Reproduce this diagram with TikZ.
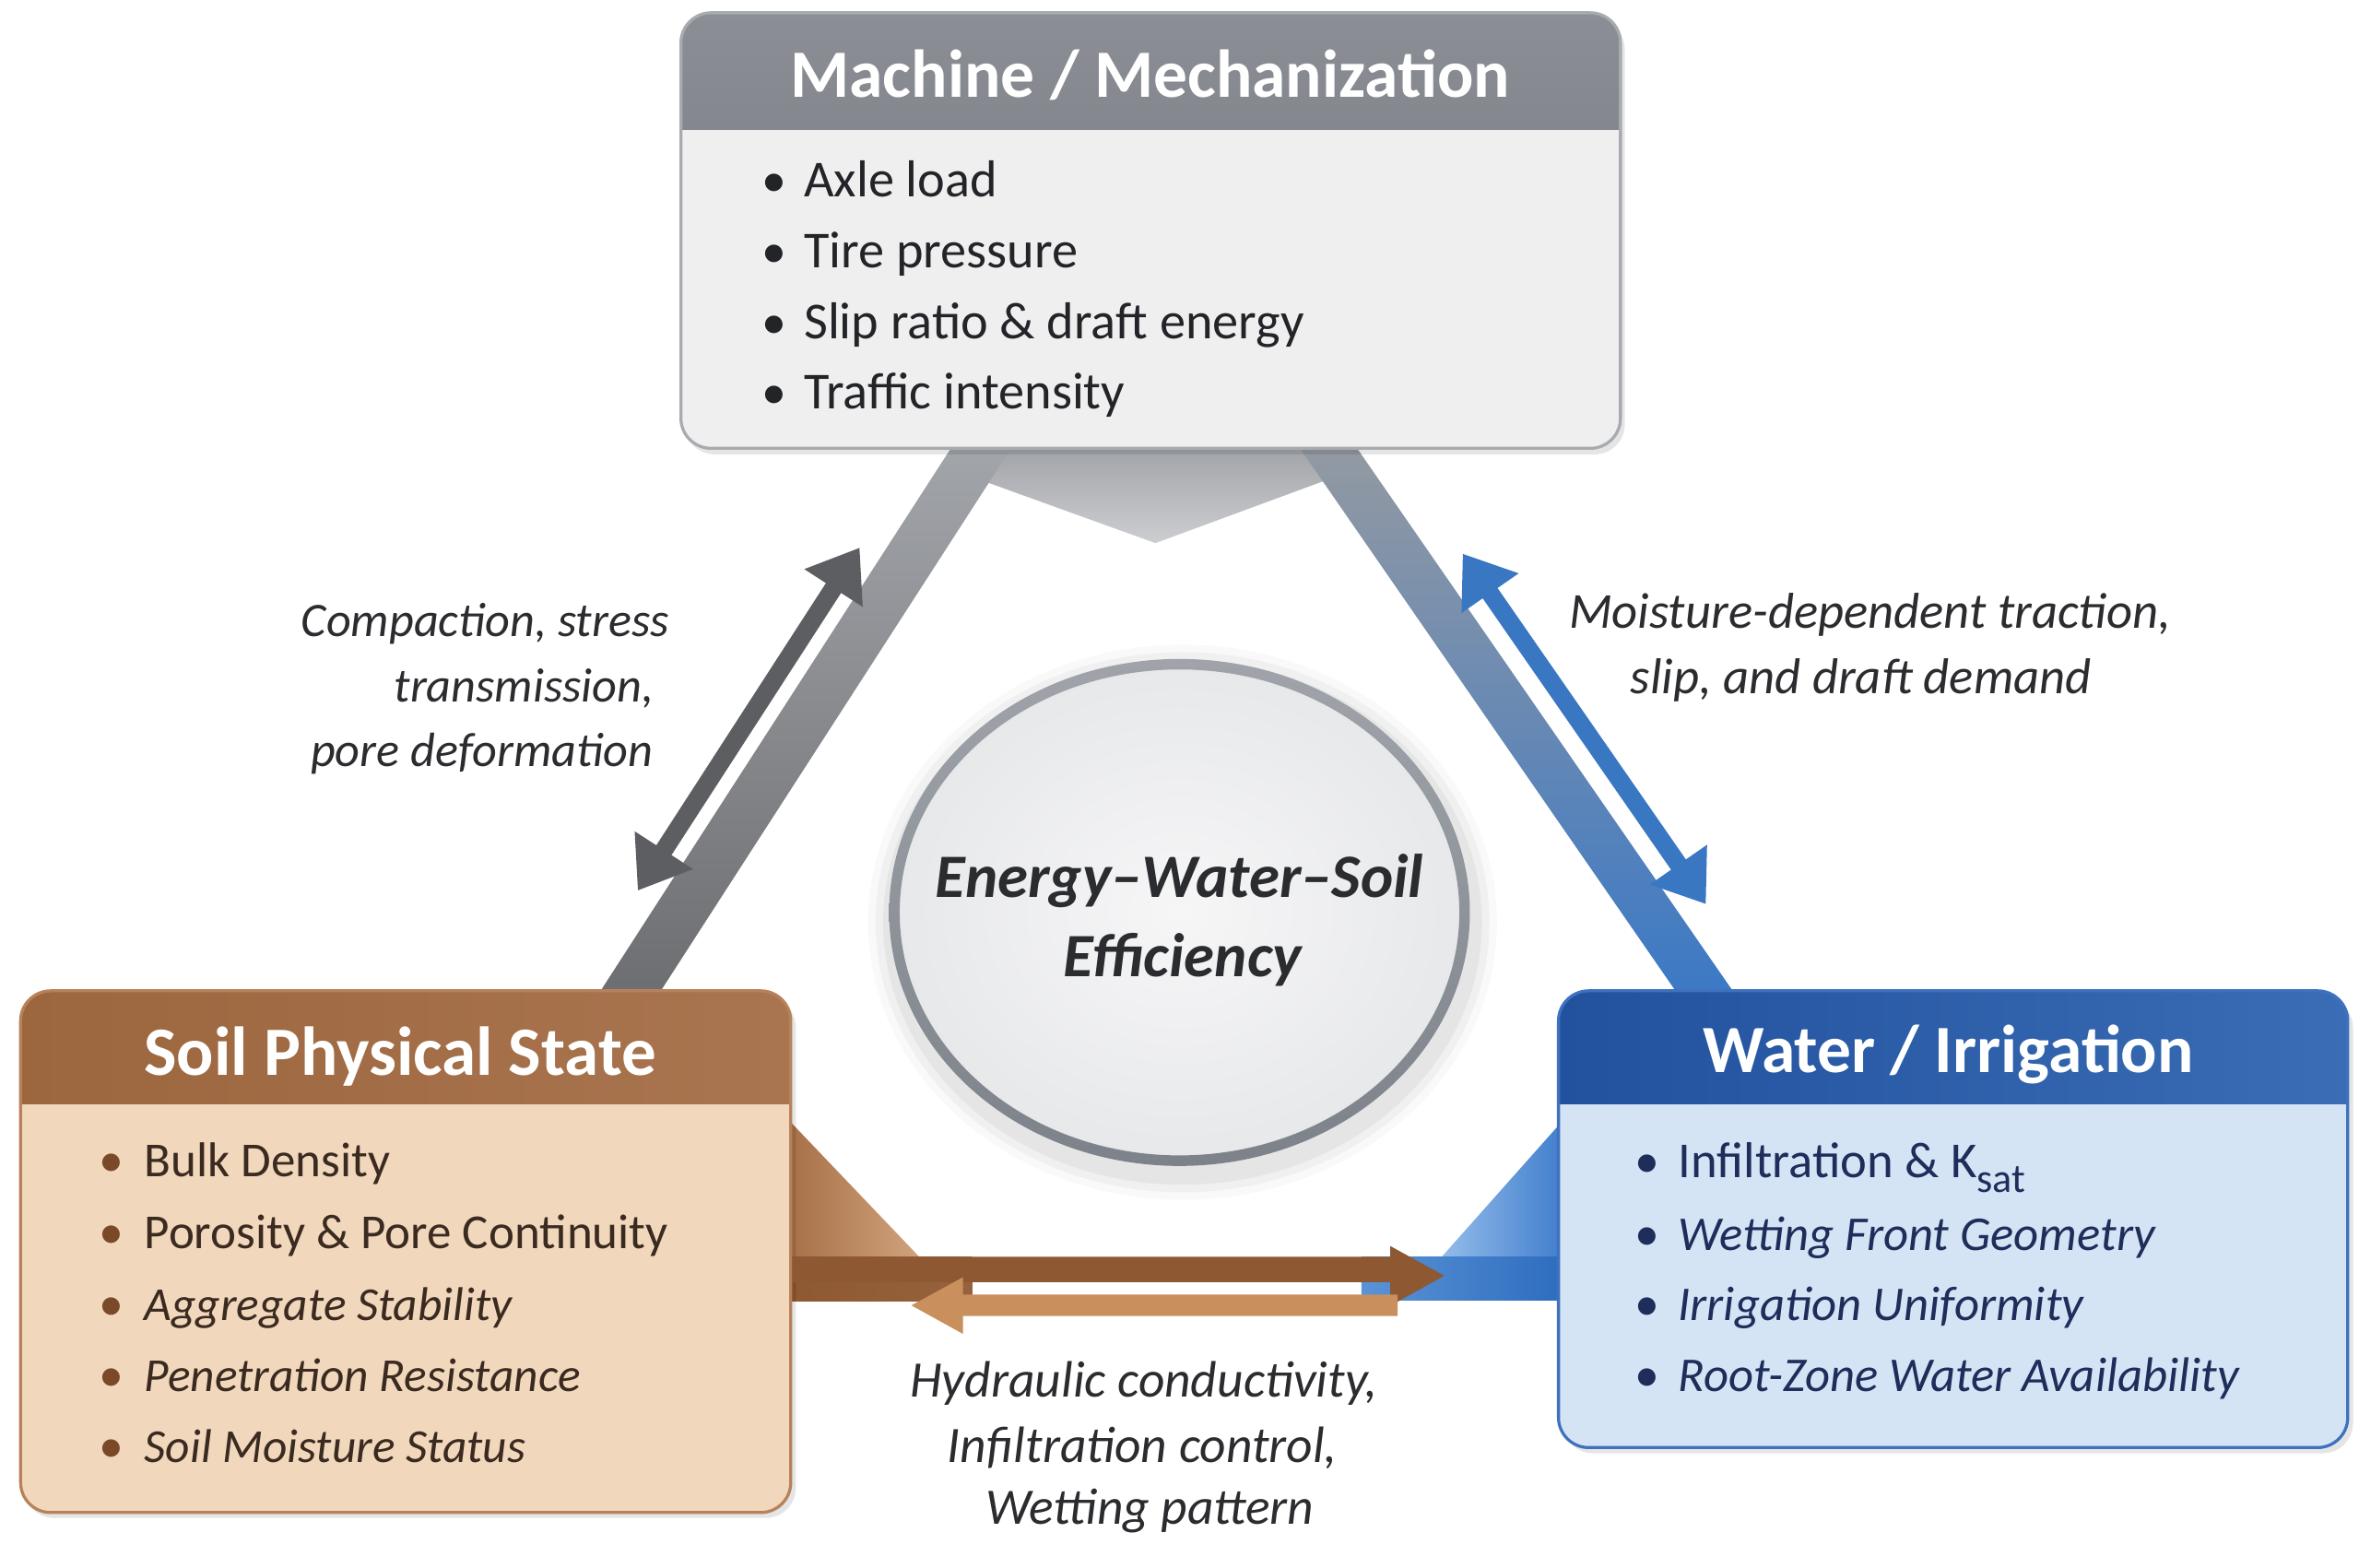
\documentclass[tikz,border=0pt]{standalone}
\usepackage{fontspec}
\setmainfont{Carlito}
\usetikzlibrary{arrows.meta,shapes.geometric}
\definecolor{mHead}{HTML}{8B8F95}
\definecolor{mHeadB}{HTML}{84888E}
\definecolor{mBody}{HTML}{EFEFF0}
\definecolor{mBorder}{HTML}{A7ABB0}
\definecolor{mText}{HTML}{222428}
\definecolor{sHead}{HTML}{9C663E}
\definecolor{sHeadB}{HTML}{A97550}
\definecolor{sBody}{HTML}{F1D7BC}
\definecolor{sBorder}{HTML}{B7825B}
\definecolor{sText}{HTML}{3A2A20}
\definecolor{sBul}{HTML}{7A4A28}
\definecolor{wHead}{HTML}{22519D}
\definecolor{wHeadB}{HTML}{3A6DB6}
\definecolor{wBody}{HTML}{D4E4F5}
\definecolor{wBorder}{HTML}{3E72BE}
\definecolor{wText}{HTML}{1E2D5A}
\definecolor{chevTop}{HTML}{9DA0A5}
\definecolor{chevBot}{HTML}{CDCED1}
\definecolor{lbTop}{HTML}{A3A6AB}
\definecolor{lbBot}{HTML}{6C6D70}
\definecolor{rbTop}{HTML}{959AA1}
\definecolor{rbMid}{HTML}{5E88BC}
\definecolor{rbBot}{HTML}{3A78C6}
\definecolor{gArrow}{HTML}{5D5E61}
\definecolor{bArrow}{HTML}{3A77C3}
\definecolor{brDark}{HTML}{8D5832}
\definecolor{brDarkB}{HTML}{96623B}
\definecolor{brLight}{HTML}{C98F5D}
\definecolor{brTriA}{HTML}{A46C43}
\definecolor{brTriB}{HTML}{D0A37D}
\definecolor{blTriA}{HTML}{93BCEA}
\definecolor{blTriB}{HTML}{3C7ACB}
\definecolor{blBandA}{HTML}{5A93D6}
\definecolor{blBandB}{HTML}{2C6BBE}
\definecolor{ringTop}{HTML}{A0A4AA}
\definecolor{ringBot}{HTML}{7D828A}
\definecolor{coreIn}{HTML}{F6F6F7}
\definecolor{coreOut}{HTML}{E7E8EA}
\definecolor{lblC}{HTML}{2B2C2F}
\definecolor{coreText}{HTML}{2A2C30}
\begin{document}
\begin{tikzpicture}[x=1pt,y=-1pt,
  titletext/.style={font=\fontsize{45}{54}\selectfont\bfseries, text=white, anchor=base, inner sep=0pt},
  itemM/.style={font=\fontsize{34.5}{40}\selectfont, anchor=base west, inner sep=0pt, text=mText},
  itemS/.style={font=\fontsize{32.5}{40}\selectfont, anchor=base west, inner sep=0pt, text=sText},
  itemSi/.style={font=\fontsize{31.5}{40}\selectfont\itshape, anchor=base west, inner sep=0pt, text=sText},
  itemW/.style={font=\fontsize{33.5}{40}\selectfont, anchor=base west, inner sep=0pt, text=wText},
  itemWi/.style={font=\fontsize{32.3}{40}\selectfont\itshape, anchor=base west, inner sep=0pt, text=wText},
  bullet/.style={font=\fontsize{33}{40}\selectfont, anchor=base, inner sep=0pt},
  lbl/.style={font=\fontsize{32}{40}\selectfont\itshape, text=lblC, inner sep=0pt},
  boxshadow/.style={fill=black, opacity=0.10, rounded corners=20pt},
  dblarrow/.style={line width=12pt, {Triangle[width=44pt,length=32pt]}-{Triangle[width=44pt,length=32pt]}}
]
\useasboundingbox (0,0) rectangle (1568,1041.7);
\fill[white] (0,0) rectangle (1568,1041.7);

% ---------- connecting frame ----------
\shade[top color=chevTop, bottom color=chevBot]
  (650,292) -- (645,316.6) -- (768,361) -- (890,316) -- (885,292) -- cycle;
\shade[top color=lbTop, bottom color=lbBot]
  (637.2,290) -- (677.2,290) -- (433.8,667) -- (393.8,667) -- cycle;
\shade[top color=rbTop, middle color=rbMid, bottom color=rbBot]
  (858.5,290) -- (896.5,290) -- (1157.5,667) -- (1119.5,667) -- cycle;

% bottom fillets
\shade[left color=brTriA, right color=brTriB] (518,738) -- (611,835.4) -- (518,835.4) -- cycle;
\shade[left color=blTriA, right color=blTriB] (1044,739) -- (958.3,835.4) -- (1044,835.4) -- cycle;
% bottom band pieces
\shade[left color=brDark, right color=brDarkB] (518,835.4) rectangle (646,865);
\shade[left color=blBandA, right color=blBandB] (905,835.4) rectangle (1044,864.5);

% ---------- boxes ----------
% Machine
\fill[boxshadow] (455,13) rectangle (1080,302);
\node[fill=mBody, rounded corners=20pt, minimum width=624.5pt, minimum height=289.5pt, inner sep=0pt] (mach) at (764.85,153.25) {};
\begin{scope}
  \clip[rounded corners=20pt] (452.6,8.5) rectangle (1077.1,298);
  \shade[top color=mHead, bottom color=mHeadB] (452.6,8.5) rectangle (1077.1,86);
\end{scope}
\draw[mBorder, line width=2pt, rounded corners=20pt] (452.6,8.5) rectangle (1077.1,298);
\node[titletext] (machT) at (764.5,64.9) {Machine / Mechanization};

% Soil
\fill[boxshadow] (16,663) rectangle (529,1009);
\node[fill=sBody, rounded corners=20pt, minimum width=511.9pt, minimum height=346.8pt, inner sep=0pt] (soil) at (269.65,832) {};
\begin{scope}
  \clip[rounded corners=20pt] (13.7,658.6) rectangle (525.6,1005.4);
  \shade[left color=sHead, right color=sHeadB] (13.7,658.6) rectangle (525.6,733.6);
\end{scope}
\draw[sBorder, line width=2pt, rounded corners=20pt] (13.7,658.6) rectangle (525.6,1005.4);
\node[titletext, font=\fontsize{46}{54}\selectfont\bfseries] (soilT) at (266,714.5) {Soil Physical State};

% Water
\fill[boxshadow] (1039,663) rectangle (1564,966);
\node[fill=wBody, rounded corners=20pt, minimum width=524.6pt, minimum height=303.6pt, inner sep=0pt] (water) at (1298.2,810.4) {};
\begin{scope}
  \clip[rounded corners=20pt] (1035.9,658.6) rectangle (1560.5,962.2);
  \shade[left color=wHead, right color=wHeadB] (1035.9,658.6) rectangle (1560.5,733.6);
\end{scope}
\draw[wBorder, line width=2pt, rounded corners=20pt] (1035.9,658.6) rectangle (1560.5,962.2);
\node[titletext] (waterT) at (1295,713) {Water / Irrigation};

% ---------- items ----------
\foreach \y/\t [count=\i] in {131/Axle load, 178/Tire pressure, 225/Slip ratio \& draft energy, 272/Traffic intensity}{
  \node[bullet, text=mText] (mb\i) at (514.9,\y) {•};
  \node[itemM] (mi\i) at (534.2,\y) {\t};
}
\node[bullet, text=sBul] (sb1) at (74,782) {•};
\node[itemS] (si1) at (95.8,782) {Bulk Density};
\node[bullet, text=sBul] (sb2) at (74,830) {•};
\node[itemS] (si2) at (95.8,830) {Porosity \& Pore Continuity};
\node[bullet, text=sBul] (sb3) at (74,878) {•};
\node[itemSi] (si3) at (95.8,878) {Aggregate Stability};
\node[bullet, text=sBul] (sb4) at (74,925) {•};
\node[itemSi] (si4) at (95.8,925) {Penetration Resistance};
\node[bullet, text=sBul] (sb5) at (74,972) {•};
\node[itemSi] (si5) at (95.8,972) {Soil Moisture Status};

\node[bullet, text=wText] (wb1) at (1094.7,783) {•};
\node[itemW] (wi1) at (1115.3,783) {Infiltration \& K\raisebox{-0.28em}{\fontsize{27}{27}\selectfont sat}};
\node[bullet, text=wText] (wb2) at (1094.7,831) {•};
\node[itemWi] (wi2) at (1115.3,831) {Wetting Front Geometry};
\node[bullet, text=wText] (wb3) at (1094.7,878) {•};
\node[itemWi] (wi3) at (1115.3,878) {Irrigation Uniformity};
\node[bullet, text=wText] (wb4) at (1094.7,925) {•};
\node[itemWi] (wi4) at (1115.3,925) {Root-Zone Water Availability};

% ---------- double arrows ----------
\coordinate (la1) at (423.9,592);
\coordinate (la2) at (571.4,364);
\draw[dblarrow, gArrow] (la1) -- (la2);
\coordinate (ra1) at (972.2,368);
\coordinate (ra2) at (1133.9,601);
\draw[dblarrow, bArrow] (ra1) -- (ra2);

% bottom arrows
\coordinate (ba1) at (526.8,843.85);
\coordinate (ba2) at (960,848);
\fill[brDark] (526.8,835.4) -- (924,835.4) -- (924,828.2) -- (ba2) -- (924,868) -- (924,852.3) -- (526.8,852.3) -- cycle;
\coordinate (bb1) at (929,867.65);
\coordinate (bb2) at (605.8,867.7);
\fill[brLight] (929,860.5) -- (640,860.5) -- (640,849) -- (bb2) -- (640,886.6) -- (640,874.8) -- (929,874.8) -- cycle;

% ---------- central ellipse ----------
\foreach \k/\o in {16/0.025,11/0.035,6/0.045}{
  \fill[black, opacity=\o] (786,613) ellipse [x radius={193pt+\k pt}, y radius={168.5pt+\k pt}];
}
\node[ellipse, inner color=coreIn, outer color=coreOut,
      minimum width=380pt, minimum height=331pt, inner sep=0pt] (core) at (784,606.5) {};
\shade[top color=ringTop, bottom color=ringBot, even odd rule]
  (784,606.5) ellipse [x radius=193pt, y radius=168.5pt]
  (784,606.5) ellipse [x radius=186pt, y radius=161.5pt];
\node[font=\fontsize{41}{48}\selectfont\bfseries\itshape, text=coreText, anchor=base, inner sep=0pt] (coreT1) at (784,596.4) {Energy–Water–Soil};
\node[font=\fontsize{41}{48}\selectfont\bfseries\itshape, text=coreText, anchor=base, inner sep=0pt] (coreT2) at (786,649) {Efficiency};

% ---------- labels ----------
\node[lbl, anchor=base east] (lL1) at (445,422.8) {Compaction, stress};
\node[lbl, anchor=base east] (lL2) at (435,466.7) {transmission,};
\node[lbl, anchor=base east] (lL3) at (434,509.6) {pore deformation};

\node[lbl, font=\fontsize{33.5}{40}\selectfont\itshape, anchor=base] (lR1) at (1243,417.7) {Moisture-dependent traction,};
\node[lbl, font=\fontsize{33.5}{40}\selectfont\itshape, anchor=base] (lR2) at (1237,461) {slip, and draft demand};

\node[lbl, font=\fontsize{34}{40}\selectfont\itshape, anchor=base] (lB1) at (760.4,928.3) {Hydraulic conductivity,};
\node[lbl, font=\fontsize{34}{40}\selectfont\itshape, anchor=base] (lB2) at (759.4,972.2) {Infiltration control,};
\node[lbl, font=\fontsize{34}{40}\selectfont\itshape, anchor=base] (lB3) at (764.3,1013) {Wetting pattern};
\end{tikzpicture}
\end{document}
